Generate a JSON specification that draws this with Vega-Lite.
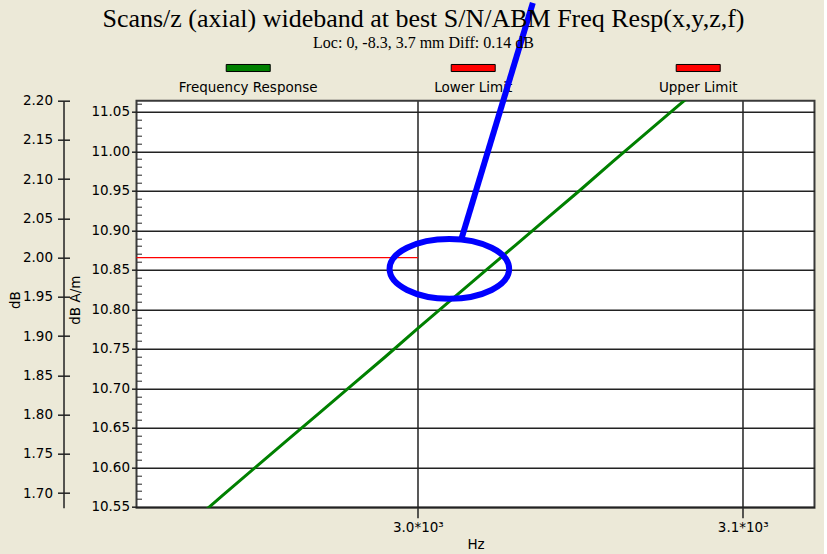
{
  "$schema": "https://vega.github.io/schema/vega-lite/v6.json",
  "background": "#ECE9D8",
  "padding": {"left": 7.5, "top": -10.3, "right": 8, "bottom": 2},
  "bounds": "flush",
  "spacing": 0,
  "title": {
    "text": "Scans/z (axial) wideband at best S/N/ABM Freq Resp(x,y,z,f)",
    "subtitle": "Loc: 0, -8.3, 3.7 mm Diff: 0.14 dB",
    "font": "Liberation Serif",
    "fontSize": 26,
    "fontWeight": "normal",
    "color": "black",
    "subtitleFont": "Liberation Serif",
    "subtitleFontSize": 16,
    "subtitleColor": "black",
    "subtitlePadding": 3,
    "anchor": "middle",
    "offset": -61,
    "dx": 12
  },
  "config": {
    "font": "DejaVu Sans",
    "axis": {
      "labelFont": "DejaVu Sans",
      "labelFontSize": 13.5,
      "labelColor": "#000000",
      "titleFont": "DejaVu Sans",
      "titleFontSize": 13.5,
      "titleFontWeight": "normal",
      "titleColor": "#000000",
      "tickColor": "#222222",
      "domainColor": "#222222"
    }
  },
  "datasets": {
    "legend": [
      {"series": "Frequency Response"},
      {"series": "Lower Limit"},
      {"series": "Upper Limit"}
    ],
    "freq": [
      {"f": 2930, "v": 10.529},
      {"f": 2940, "v": 10.565},
      {"f": 2950, "v": 10.600},
      {"f": 2960, "v": 10.635},
      {"f": 2970, "v": 10.670},
      {"f": 2980, "v": 10.705},
      {"f": 2990, "v": 10.740},
      {"f": 3000, "v": 10.776},
      {"f": 3010, "v": 10.811},
      {"f": 3020, "v": 10.846},
      {"f": 3030, "v": 10.881},
      {"f": 3040, "v": 10.916},
      {"f": 3050, "v": 10.951},
      {"f": 3060, "v": 10.987},
      {"f": 3070, "v": 11.022},
      {"f": 3080, "v": 11.057},
      {"f": 3090, "v": 11.092}
    ],
    "lower": [
      {"f": 2913.4, "db": 2.0},
      {"f": 3000, "db": 2.0}
    ],
    "leader": [
      {"f": 3013.3, "v": 10.8877},
      {"f": 3035.4, "v": 11.1877}
    ],
    "ellipse": [
      {"f": 3009.7, "v": 10.8512}
    ]
  },
  "vconcat": [
    {
      "width": 678,
      "height": 40,
      "view": {"stroke": null, "fill": null},
      "data": {"name": "legend"},
      "encoding": {
        "x": {
          "field": "series",
          "type": "nominal",
          "sort": null,
          "scale": {"type": "point", "domain": ["Frequency Response", "Lower Limit", "Upper Limit"], "padding": 0.5067, "align": 0.49},
          "axis": null
        }
      },
      "layer": [
        {
          "mark": {"type": "point", "shape": "M-1,-0.16H1V0.16H-1Z", "size": 1936, "filled": true, "opacity": 1, "stroke": "#000000", "strokeWidth": 1, "yOffset": -12.7},
          "encoding": {
            "fill": {
              "field": "series",
              "type": "nominal",
              "scale": {"domain": ["Frequency Response", "Lower Limit", "Upper Limit"], "range": ["#008000", "#FF0000", "#FF0000"]},
              "legend": null
            }
          }
        },
        {
          "mark": {"type": "text", "font": "DejaVu Sans", "fontSize": 13.5, "dy": 11.3, "baseline": "alphabetic", "align": "center", "color": "#000000"},
          "encoding": {"text": {"field": "series"}}
        }
      ]
    },
    {
      "width": 678,
      "height": 407,
      "view": {"fill": "#FFFFFF", "stroke": "#3a3a3a", "strokeWidth": 2},
      "resolve": {"scale": {"y": "independent"}, "axis": {"y": "independent"}},
      "encoding": {
        "x": {
          "field": "f",
          "type": "quantitative",
          "scale": {"domain": [2913.4, 3122.1], "nice": false, "zero": false},
          "axis": {
            "values": [3000, 3100],
            "labelExpr": "format(datum.value / 1000, '.1f') + '*10³'",
            "title": "Hz",
            "grid": true,
            "gridColor": "#222222",
            "gridWidth": 1.5,
            "tickSize": 10,
            "tickWidth": 1.5,
            "domain": false,
            "labelPadding": 3,
            "titlePadding": 3
          }
        }
      },
      "layer": [
        {
          "data": {"name": "freq"},
          "mark": {"type": "line", "color": "#008000", "strokeWidth": 3, "clip": true},
          "encoding": {
            "y": {
              "field": "v",
              "type": "quantitative",
              "scale": {"domain": [10.549, 11.064], "nice": false, "zero": false},
              "axis": {
                "orient": "left",
                "values": [10.55, 10.6, 10.65, 10.7, 10.75, 10.8, 10.85, 10.9, 10.95, 11.0, 11.05],
                "format": ".2f",
                "grid": true,
                "gridColor": "#222222",
                "gridWidth": 1.5,
                "tickSize": 5,
                "tickWidth": 1.5,
                "domain": false,
                "labelPadding": 2,
                "title": "dB A/m",
                "titleX": -54,
                "titleY": 199
              }
            }
          }
        },
        {
          "data": {"name": "freq"},
          "mark": {"type": "line", "opacity": 0, "clip": true},
          "encoding": {
            "y": {
              "field": "v",
              "type": "quantitative",
              "scale": {"domain": [10.549, 11.064], "nice": false, "zero": false},
              "axis": {
                "orient": "left",
                "values": [10.56, 10.57, 10.58, 10.59, 10.61, 10.62, 10.63, 10.64, 10.66, 10.67, 10.68, 10.69, 10.71, 10.72, 10.73, 10.74, 10.76, 10.77, 10.78, 10.79, 10.81, 10.82, 10.83, 10.84, 10.86, 10.87, 10.88, 10.89, 10.91, 10.92, 10.93, 10.94, 10.96, 10.97, 10.98, 10.99, 11.01, 11.02, 11.03, 11.04, 11.06],
                "tickSize": -5,
                "tickWidth": 1,
                "labels": false,
                "domain": false,
                "grid": false,
                "title": null
              }
            }
          }
        },
        {
          "data": {"name": "lower"},
          "mark": {"type": "line", "color": "#FF0000", "strokeWidth": 1.3},
          "encoding": {
            "y": {
              "field": "db",
              "type": "quantitative",
              "scale": {"domain": [1.6815, 2.2], "nice": false, "zero": false},
              "axis": {
                "orient": "left",
                "offset": 73,
                "values": [1.7, 1.75, 1.8, 1.85, 1.9, 1.95, 2.0, 2.05, 2.1, 2.15, 2.2],
                "format": ".2f",
                "grid": false,
                "tickSize": 6,
                "tickWidth": 1.5,
                "domain": true,
                "domainWidth": 1.5,
                "labelPadding": 5,
                "title": "dB",
                "titleX": -41,
                "titleY": 199
              }
            }
          }
        },
        {
          "data": {"name": "lower"},
          "mark": {"type": "line", "opacity": 0},
          "encoding": {
            "y": {
              "field": "db",
              "type": "quantitative",
              "scale": {"domain": [1.6815, 2.2], "nice": false, "zero": false},
              "axis": {
                "orient": "left",
                "offset": 67,
                "values": [1.7, 1.75, 1.8, 1.85, 1.9, 1.95, 2.0, 2.05, 2.1, 2.15, 2.2],
                "tickSize": 6,
                "tickWidth": 1.5,
                "labels": false,
                "domain": false,
                "grid": false,
                "title": null
              }
            }
          }
        },
        {
          "data": {"name": "leader"},
          "mark": {"type": "line", "color": "#0000FF", "strokeWidth": 6, "clip": false},
          "encoding": {
            "y": {
              "field": "v",
              "type": "quantitative",
              "scale": {"domain": [10.549, 11.064], "nice": false, "zero": false},
              "axis": null
            }
          }
        },
        {
          "data": {"name": "ellipse"},
          "mark": {
            "type": "point",
            "shape": "M-1,0C-1,-0.276,-0.552,-0.5,0,-0.5C0.552,-0.5,1,-0.276,1,0C1,0.276,0.552,0.5,0,0.5C-0.552,0.5,-1,0.276,-1,0Z",
            "size": 14304,
            "filled": false,
            "stroke": "#0000FF",
            "strokeWidth": 6,
            "opacity": 1
          },
          "encoding": {
            "y": {
              "field": "v",
              "type": "quantitative",
              "scale": {"domain": [10.549, 11.064], "nice": false, "zero": false},
              "axis": null
            }
          }
        }
      ]
    }
  ]
}
